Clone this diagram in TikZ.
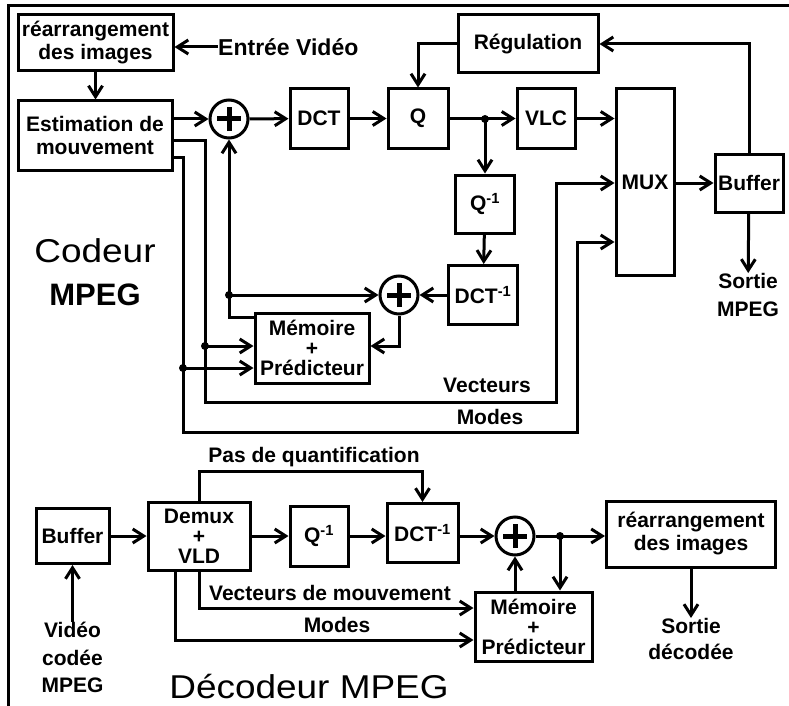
\documentclass[tikz,border=0pt]{standalone}
\usepackage{fontspec}
\setmainfont{Liberation Sans}
\newfontfamily\widefont[FakeStretch=1.12]{Liberation Sans}
\usetikzlibrary{arrows.meta}
\newcommand{\boxfont}{\fontsize{21}{23}\selectfont\bfseries}
\newcommand{\memfont}{\fontsize{21}{20}\selectfont\bfseries}
\tikzstyle{block} = [rectangle, draw=black, line width=3pt,
    inner sep=0pt, align=center, font=\boxfont]
\tikzstyle{arrow} = [line width=3pt, -{Straight Barb[length=11pt,width=14pt]}]
\tikzstyle{summer} = [circle, draw=black, line width=3pt, minimum size=38pt,
    inner sep=0pt, path picture={
      \draw[line width=5pt] ([xshift=-12pt]path picture bounding box.center)
        -- ([xshift=12pt]path picture bounding box.center);
      \draw[line width=5pt] ([yshift=-12pt]path picture bounding box.center)
        -- ([yshift=12pt]path picture bounding box.center);}]
\tikzstyle{dot} = [circle, fill=black, inner sep=0pt, minimum size=8pt]
\tikzstyle{lbl} = [inner sep=0pt, align=center, font=\boxfont]

\begin{document}
\begin{tikzpicture}[x=1pt, y=-1pt]
  \useasboundingbox (0,0) rectangle (789,706);
  \draw[line width=3pt] (8,706) -- (8,6) -- (789,6);

  % codeur
  \node (reorg)  [block, minimum width=155pt, minimum height=56pt] at (95.5,43) {réarrangement\\des images};
  \node (entree) [lbl, anchor=west, font=\fontsize{23}{25}\selectfont\bfseries] at (218,47) {Entrée Vidéo};
  \node (est)    [block, minimum width=154pt, minimum height=69pt] at (95,135.5) {Estimation de\\mouvement};
  \node (sumA)   [summer] at (229,119) {};
  \node (dct)    [block, minimum width=58pt, minimum height=59pt] at (319,118.5) {DCT};
  \node (quant)  [block, minimum width=60pt, minimum height=59pt] at (418,118.5) {Q};
  \node (regul)  [block, minimum width=140pt, minimum height=58pt] at (528,44) {Régulation};
  \node (vlc)    [block, minimum width=58pt, minimum height=59pt] at (546,118.5) {VLC};
  \node (mux)    [block, minimum width=58pt, minimum height=186pt] at (645,182) {MUX};
  \node (buf)    [block, minimum width=68pt, minimum height=58pt] at (749,183) {Buffer};
  \node (sortie) [lbl, anchor=north, font=\fontsize{21}{28}\selectfont\bfseries] at (748,273) {Sortie\\MPEG};
  \node (jq)     [dot] at (485,119) {};
  \node (iquant) [block, minimum width=59pt, minimum height=58pt] at (485,204) {Q\textsuperscript{-1}};
  \node (idct)   [block, minimum width=69pt, minimum height=59pt] at (483,295) {DCT\textsuperscript{-1}};
  \node (sumB)   [summer] at (399,295) {};
  \node (mem)    [block, minimum width=114pt, minimum height=70pt, font=\memfont] at (312,348) {Mémoire\\+\\Prédicteur};
  \node (js)     [dot] at (229,295) {};
  \node (jv)     [dot] at (205,346) {};
  \node (jm)     [dot] at (183,368) {};
  \node (lvec)   [lbl] at (487,385) {Vecteurs};
  \node (lmod)   [lbl] at (490,417) {Modes};
  \node (codeur) [align=center, inner sep=0pt, font=\fontsize{33}{43}\selectfont] at (95,272)
    {{\widefont Codeur}\\{\fontsize{31}{43}\selectfont\bfseries MPEG}};

  \draw[arrow] (entree.west) -- (entree.west -| reorg.east);
  \draw[arrow] (reorg.south) -- (reorg.south |- est.north);
  \draw[arrow] (est.east |- sumA) -- (sumA);
  \draw[arrow] (sumA) -- (dct);
  \draw[arrow] (dct) -- (quant);
  \draw[arrow] (quant) -- (vlc);
  \draw[arrow] (vlc) -- (vlc -| mux.west);
  \draw[arrow] (mux.east |- buf) -- (buf);
  \draw[arrow] (buf.north) |- (regul);
  \draw[arrow] (regul) -| (quant);
  \draw[arrow] (buf) -- (sortie);
  \draw[arrow] (jq.center) -- (iquant);
  \draw[arrow] (iquant) -- (idct);
  \draw[arrow] (idct) -- (sumB);
  \draw[arrow] (sumB) |- (mem.east |- 0,346);
  \draw[arrow] (mem.west |- 0,317) -| (sumA);
  \draw[arrow] (js.center) -- (sumB);
  \draw[arrow] (jv.center) -- (jv -| mem.west);
  \draw[arrow] (jm.center) -- (jm -| mem.west);
  \draw[arrow] (est.east |- 0,140) -| (205,402) -| (556,183) -- (mux.west |- 0,183);
  \draw[arrow] (est.east |- 0,157) -| (183,432) -| (577,242) -- (mux.west |- 0,242);

  % decodeur
  \node (bufD)     [block, minimum width=73pt, minimum height=55pt] at (72.5,536) {Buffer};
  \node (demux)    [block, minimum width=102pt, minimum height=68pt, font=\memfont] at (199,536) {Demux\\+\\VLD};
  \node (iquantD)  [block, minimum width=58pt, minimum height=60pt] at (319,536) {Q\textsuperscript{-1}};
  \node (idctD)    [block, minimum width=71pt, minimum height=59pt] at (422.5,533) {DCT\textsuperscript{-1}};
  \node (sumC)     [summer] at (515,536) {};
  \node (jd)       [dot] at (560,536) {};
  \node (reorgD)   [block, minimum width=169pt, minimum height=66pt] at (691,534) {réarrangement\\des images};
  \node (memD)     [block, minimum width=117pt, minimum height=69pt, font=\memfont] at (533.5,626.5) {Mémoire\\+\\Prédicteur};
  \node (sortieD)  [lbl, anchor=north, font=\fontsize{21}{26}\selectfont\bfseries] at (691,618) {Sortie\\décodée};
  \node (videoD)   [lbl, anchor=north, font=\fontsize{21}{27.5}\selectfont\bfseries] at (72.5,622) {Vidéo\\codée\\MPEG};
  \node (lpas)     [lbl] at (314,457) {Pas de quantification};
  \node (lvecD)    [lbl] at (330,593) {Vecteurs de mouvement};
  \node (lmodD)    [lbl] at (337,625) {Modes};
  \node (decodeur) [inner sep=0pt, font=\widefont\fontsize{33}{40}\selectfont] at (309,687) {Décodeur MPEG};

  \draw[arrow] (bufD) -- (demux);
  \draw[arrow] (demux) -- (iquantD);
  \draw[arrow] (iquantD) -- (iquantD -| idctD.west);
  \draw[arrow] (idctD.east |- sumC) -- (sumC);
  \draw[arrow] (sumC) -- (reorgD.west |- sumC);
  \draw[arrow] (jd.center) -- (jd |- memD.north);
  \draw[arrow] (memD.north -| sumC) -- (sumC);
  \draw[arrow] (demux.north) -- ++(0,-29) -| (idctD.north);
  \draw[arrow] (demux.south) |- (memD.west |- 0,608);
  \draw[arrow] (demux.south -| 175,0) |- (memD.west |- 0,640);
  \draw[arrow] (reorgD) -- (sortieD);
  \draw[arrow] (bufD.south |- videoD.north) -- (bufD.south);
\end{tikzpicture}
\end{document}
